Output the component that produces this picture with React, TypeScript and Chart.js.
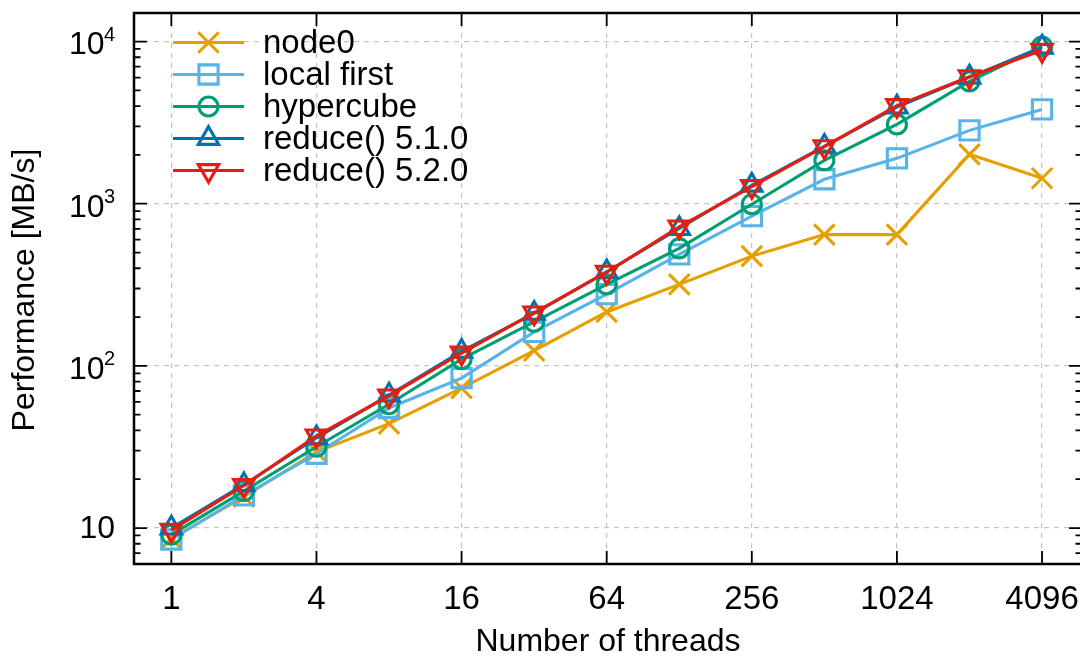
import React, { useEffect, useRef } from 'react';
import { Chart, registerables } from 'chart.js';

Chart.register(...registerables);

const FONT = "'Liberation Sans', Arial, Helvetica, sans-serif";

// ---------- data ----------
const threads = [1, 2, 4, 8, 16, 32, 64, 128, 256, 512, 1024, 2048, 4096];
const xTickValues = [1, 4, 16, 64, 256, 1024, 4096];
const yTickValues = [10, 100, 1000, 10000];
const yTickExponents = ['', '2', '3', '4'];
const xTitle = 'Number of threads';
const yTitle = 'Performance [MB/s]';

const node0 = [8.6, 15.6, 29.5, 44, 73, 124, 215, 318, 475, 645, 645, 2016, 1436];
const localFirst = [8.5, 15.9, 28.7, 55, 84, 162, 277, 487, 838, 1415, 1905, 2833, 3815];
const hypercube = [9.1, 16.9, 31.7, 58, 110, 187, 318, 530, 993, 1852, 3085, 5680, 9320];
const reduce510 = [10.0, 18.5, 36, 66, 123, 211, 380, 703, 1300, 2260, 3945, 6030, 9230];
const reduce520 = [9.7, 18.3, 37, 65.3, 120, 212, 378, 720, 1276, 2250, 4030, 6070, 8840];

const seriesNames = ['node0', 'local first', 'hypercube', 'reduce() 5.1.0', 'reduce() 5.2.0'];
const seriesValues = [node0, localFirst, hypercube, reduce510, reduce520];
const seriesColors = ['#e69f00', '#56b4e9', '#009e73', '#0072b2', '#e51e10'];

const X_MIN = 0.7;
const X_MAX = 6000;
const Y_MIN = 6;
const Y_MAX = 15000;

// ---------- styles ----------
type Marker = { style: string; radius: number; rotation: number };
const markers: Marker[] = [
  { style: 'crossRot', radius: 14.5, rotation: 0 },
  { style: 'rect', radius: 13.6, rotation: 0 },
  { style: 'circle', radius: 9.5, rotation: 0 },
  { style: 'triangle', radius: 11.8, rotation: 0 },
  { style: 'triangle', radius: 11.8, rotation: 180 },
];
const LINE_W = 3.1;
const TEXT_SIZE = 33;
const TITLE_SIZE = 32;

function drawMarker(ctx: CanvasRenderingContext2D, m: Marker, x: number, y: number) {
  const r = m.radius;
  ctx.beginPath();
  if (m.style === 'crossRot') {
    const o = Math.SQRT1_2 * r;
    ctx.moveTo(x - o, y - o);
    ctx.lineTo(x + o, y + o);
    ctx.moveTo(x + o, y - o);
    ctx.lineTo(x - o, y + o);
  } else if (m.style === 'rect') {
    const s = Math.SQRT1_2 * r;
    ctx.rect(x - s, y - s, 2 * s, 2 * s);
  } else if (m.style === 'circle') {
    ctx.arc(x, y, r, 0, Math.PI * 2);
  } else {
    let a = (m.rotation * Math.PI) / 180;
    for (let k = 0; k < 3; k++) {
      const px = x + Math.sin(a) * r;
      const py = y - Math.cos(a) * r;
      if (k === 0) ctx.moveTo(px, py);
      else ctx.lineTo(px, py);
      a += (2 * Math.PI) / 3;
    }
    ctx.closePath();
  }
  ctx.stroke();
}

const gnuplotPlugin = {
  id: 'gnuplotFrame',
  afterDraw(chart: any) {
    const { ctx, chartArea } = chart;
    const { left, right, top, bottom } = chartArea;
    const xs = chart.scales.x;
    const ys = chart.scales.y;
    ctx.save();

    // tick marks (inward, mirrored)
    ctx.strokeStyle = '#000';
    ctx.lineWidth = 1.8;
    ctx.beginPath();
    xTickValues.forEach((v) => {
      const px = xs.getPixelForValue(v);
      ctx.moveTo(px, bottom);
      ctx.lineTo(px, bottom - 13);
      ctx.moveTo(px, top);
      ctx.lineTo(px, top + 13);
    });
    for (let d = 1; d <= 10000; d *= 10) {
      for (let m = 1; m <= 9; m++) {
        const v = m * d;
        if (v < Y_MIN || v > Y_MAX) continue;
        const len = m === 1 ? 13 : 6.5;
        const py = ys.getPixelForValue(v);
        ctx.moveTo(left, py);
        ctx.lineTo(left + len, py);
        ctx.moveTo(right, py);
        ctx.lineTo(right - len, py);
      }
    }
    ctx.stroke();

    // frame
    ctx.lineWidth = 2.5;
    ctx.strokeRect(left, top, right - left, bottom - top);

    // y tick labels with superscripts
    ctx.fillStyle = '#000';
    ctx.textBaseline = 'middle';
    ctx.textAlign = 'right';
    yTickValues.forEach((v, i) => {
      const py = ys.getPixelForValue(v);
      const ex = yTickExponents[i];
      if (!ex) {
        ctx.font = `32px ${FONT}`;
        ctx.fillText('10', 115, py + 1);
      } else {
        ctx.font = `32px ${FONT}`;
        ctx.fillText('10', 104.5, py + 4);
        ctx.font = `20px ${FONT}`;
        ctx.fillText(ex, 115, py - 6.5);
      }
    });

    // axis titles
    ctx.font = `${TITLE_SIZE}px ${FONT}`;
    ctx.textAlign = 'center';
    ctx.textBaseline = 'middle';
    ctx.fillText(xTitle, 608, 642);
    ctx.save();
    ctx.translate(25, 290);
    ctx.rotate(-Math.PI / 2);
    ctx.fillText(yTitle, 0, 0);
    ctx.restore();

    // legend
    seriesNames.forEach((name, i) => {
      const yy = 42.5 + i * 32;
      ctx.strokeStyle = seriesColors[i];
      ctx.lineWidth = LINE_W;
      ctx.beginPath();
      ctx.moveTo(173, yy);
      ctx.lineTo(244, yy);
      ctx.stroke();
      drawMarker(ctx, markers[i], 208.5, yy);
      ctx.fillStyle = '#000';
      ctx.font = `${TEXT_SIZE}px ${FONT}`;
      ctx.textAlign = 'left';
      ctx.textBaseline = 'middle';
      ctx.fillText(name, 263, yy + 1);
    });

    ctx.restore();
  },
};

function zeroPadding(s: any) {
  s.paddingLeft = 0;
  s.paddingRight = 0;
  s.paddingTop = 0;
  s.paddingBottom = 0;
}

export default function App() {
  const canvasRef = useRef<HTMLCanvasElement | null>(null);

  useEffect(() => {
    if (!canvasRef.current) return;
    const datasets = seriesNames.map((name, i) => ({
      label: name,
      data: threads.map((t, j) => ({ x: t, y: seriesValues[i][j] })),
      borderColor: seriesColors[i],
      backgroundColor: 'transparent',
      borderWidth: LINE_W,
      pointStyle: markers[i].style,
      pointRadius: markers[i].radius,
      pointRotation: markers[i].rotation,
      pointBorderColor: seriesColors[i],
      pointBackgroundColor: 'transparent',
      pointBorderWidth: LINE_W,
      tension: 0,
      fill: false,
      order: seriesNames.length - i,
    }));

    const gridOpts = { color: '#c4c4c4', lineWidth: 1.2, drawTicks: false };

    const chart = new Chart(canvasRef.current, {
      type: 'line',
      data: { datasets },
      options: {
        animation: false,
        responsive: false,
        events: [],
        layout: { autoPadding: false, padding: { top: 13, right: 2, left: 0, bottom: 0 } },
        plugins: { legend: { display: false }, tooltip: { enabled: false } },
        scales: {
          x: {
            type: 'logarithmic',
            min: X_MIN,
            max: X_MAX,
            afterBuildTicks: (s: any) => {
              s.ticks = xTickValues.map((v) => ({ value: v }));
            },
            afterFit: (s: any) => {
              s.height = 93;
              zeroPadding(s);
            },
            ticks: {
              autoSkip: false,
              maxRotation: 0,
              minRotation: 0,
              padding: 16,
              color: '#000',
              font: { family: FONT, size: TEXT_SIZE },
              callback: (v: any) => String(v),
            },
            grid: gridOpts,
            border: { display: false, dash: [5, 5] },
          },
          y: {
            type: 'logarithmic',
            min: Y_MIN,
            max: Y_MAX,
            afterBuildTicks: (s: any) => {
              s.ticks = yTickValues.map((v) => ({ value: v }));
            },
            afterFit: (s: any) => {
              s.width = 134;
              zeroPadding(s);
            },
            ticks: { display: false },
            grid: gridOpts,
            border: { display: false, dash: [5, 5] },
          },
        },
      } as any,
      plugins: [gnuplotPlugin],
    });
    return () => chart.destroy();
  }, []);

  return (
    <div
      style={{
        position: 'fixed',
        left: 0,
        top: 0,
        width: 1080,
        height: 657,
        overflow: 'hidden',
        background: '#fff',
      }}
    >
      <canvas ref={canvasRef} width={1084} height={657} style={{ display: 'block' }} />
    </div>
  );
}
